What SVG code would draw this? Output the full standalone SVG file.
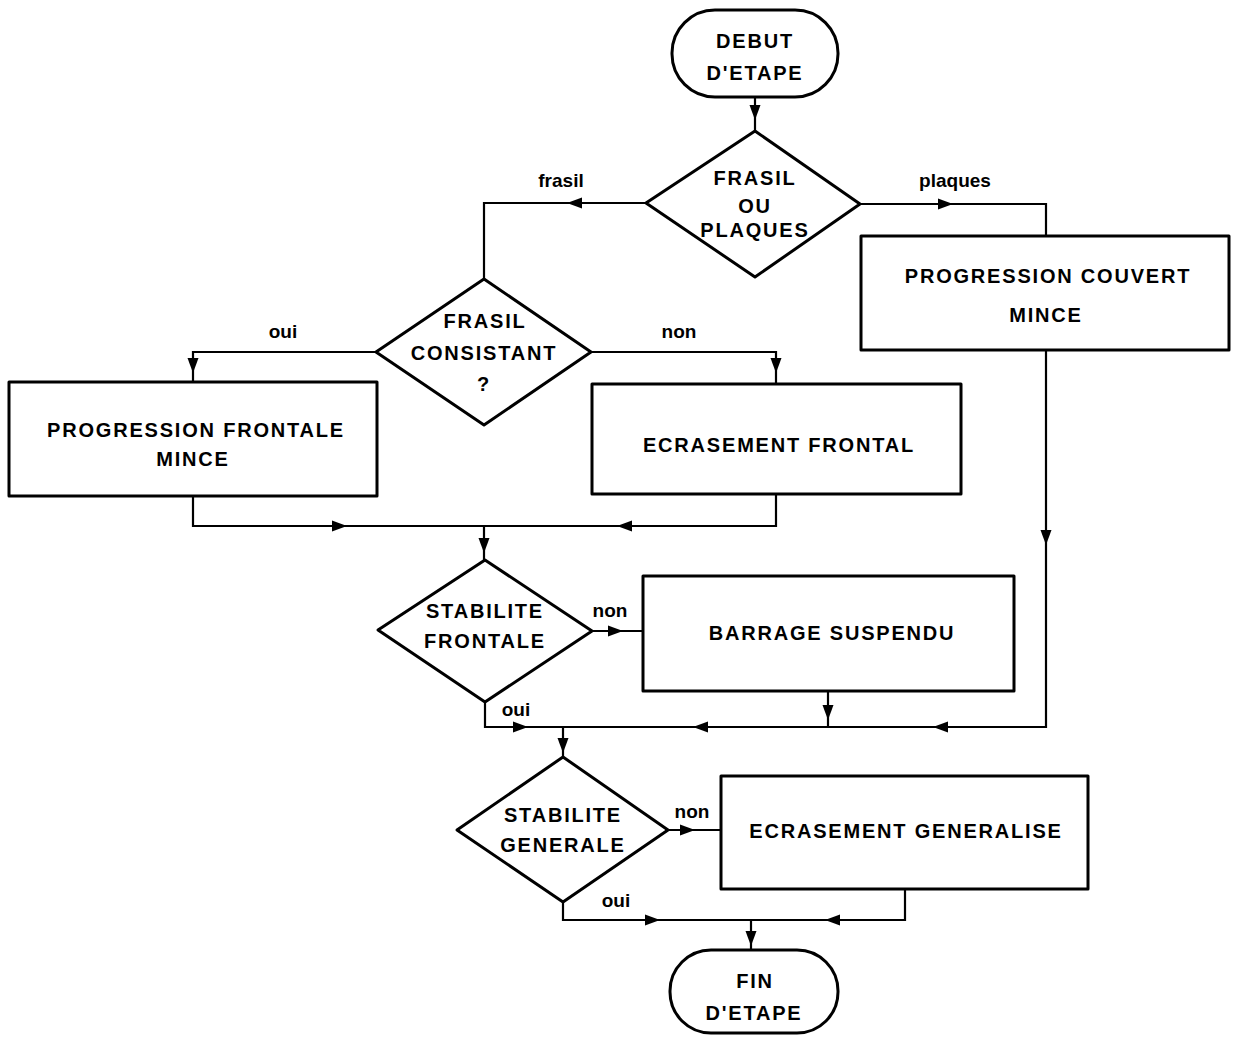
<svg xmlns="http://www.w3.org/2000/svg" width="1238" height="1037" viewBox="0 0 1238 1037">
<style>
.n{fill:#fff;stroke:#000;stroke-width:3;stroke-linejoin:round}
.t{font-family:"Liberation Sans",Arial,sans-serif;font-weight:bold;font-size:20px;letter-spacing:1.8px;fill:#000;text-anchor:middle}
.l{font-family:"Liberation Sans",Arial,sans-serif;font-weight:bold;font-size:19px;fill:#000;text-anchor:middle}
.c{fill:none;stroke:#000;stroke-width:2.2;stroke-linejoin:miter}
</style>
<defs>
<path id="ah" d="M0,0 L-15,-5.5 L-15,5.5 Z" fill="#000"/>
</defs>
<rect width="1238" height="1037" fill="#fff"/>

<g id="connectors">
<path class="c" d="M755,98 V131"/>
<use href="#ah" transform="translate(755,120) rotate(90)"/>
<path class="c" d="M646,203 H484 V279"/>
<use href="#ah" transform="translate(567,203) rotate(180)"/>
<path class="c" d="M860,204 H1046 V236"/>
<use href="#ah" transform="translate(953,204)"/>
<path class="c" d="M376,352 H193 V382"/>
<use href="#ah" transform="translate(193,373) rotate(90)"/>
<path class="c" d="M591,352 H776 V383"/>
<use href="#ah" transform="translate(776,373) rotate(90)"/>
<path class="c" d="M193,496 V526 H776 V495"/>
<use href="#ah" transform="translate(347,526)"/>
<use href="#ah" transform="translate(617,526) rotate(180)"/>
<path class="c" d="M484,526 V560"/>
<use href="#ah" transform="translate(484,553) rotate(90)"/>
<path class="c" d="M592,631 H643"/>
<use href="#ah" transform="translate(623,631)"/>
<path class="c" d="M485,702 V727 H1046 V350"/>
<use href="#ah" transform="translate(528,727)"/>
<use href="#ah" transform="translate(693,727) rotate(180)"/>
<use href="#ah" transform="translate(933,727) rotate(180)"/>
<use href="#ah" transform="translate(1046,545) rotate(90)"/>
<path class="c" d="M828,691 V727"/>
<use href="#ah" transform="translate(828,720) rotate(90)"/>
<path class="c" d="M563,727 V757"/>
<use href="#ah" transform="translate(563,753) rotate(90)"/>
<path class="c" d="M668,830 H720"/>
<use href="#ah" transform="translate(695,830)"/>
<path class="c" d="M563,902 V920 H905 V889"/>
<use href="#ah" transform="translate(660,920)"/>
<use href="#ah" transform="translate(825,920) rotate(180)"/>
<path class="c" d="M751,920 V950"/>
<use href="#ah" transform="translate(751,946) rotate(90)"/>
<text class="l" x="561" y="187">frasil</text>
<text class="l" x="955" y="187">plaques</text>
<text class="l" x="283" y="338">oui</text>
<text class="l" x="679" y="338">non</text>
<text class="l" x="610" y="617">non</text>
<text class="l" x="516" y="716">oui</text>
<text class="l" x="692" y="818">non</text>
<text class="l" x="616" y="907">oui</text>
</g>

<g id="debut">
<rect class="n" x="672" y="10" width="166" height="87" rx="43" ry="43"/>
<text class="t" x="755" y="48">DEBUT</text>
<text class="t" x="755" y="80">D'ETAPE</text>
</g>

<g id="frasil-ou-plaques">
<polygon class="n" points="755,131 860,204 755,277 646,203"/>
<text class="t" x="755" y="185">FRASIL</text>
<text class="t" x="755" y="213">OU</text>
<text class="t" x="755" y="237">PLAQUES</text>
</g>

<g id="progression-couvert">
<rect class="n" x="861" y="236" width="368" height="114"/>
<text class="t" x="1048" y="283">PROGRESSION COUVERT</text>
<text class="t" x="1046" y="322">MINCE</text>
</g>

<g id="frasil-consistant">
<polygon class="n" points="484,279 591,352 484,425 376,352"/>
<text class="t" x="485" y="328">FRASIL</text>
<text class="t" x="484" y="360">CONSISTANT</text>
<text class="t" x="484" y="391">?</text>
</g>

<g id="progression-frontale">
<rect class="n" x="9" y="382" width="368" height="114"/>
<text class="t" x="196" y="437">PROGRESSION FRONTALE</text>
<text class="t" x="193" y="466">MINCE</text>
</g>

<g id="ecrasement-frontal">
<rect class="n" x="592" y="384" width="369" height="110"/>
<text class="t" x="779" y="452">ECRASEMENT FRONTAL</text>
</g>

<g id="stabilite-frontale">
<polygon class="n" points="485,560 592,631 485,702 378,630"/>
<text class="t" x="485" y="618">STABILITE</text>
<text class="t" x="485" y="648">FRONTALE</text>
</g>

<g id="barrage-suspendu">
<rect class="n" x="643" y="576" width="371" height="115"/>
<text class="t" x="832" y="640">BARRAGE SUSPENDU</text>
</g>

<g id="stabilite-generale">
<polygon class="n" points="563,757 668,830 563,902 457,830"/>
<text class="t" x="563" y="822">STABILITE</text>
<text class="t" x="563" y="852">GENERALE</text>
</g>

<g id="ecrasement-generalise">
<rect class="n" x="721" y="776" width="367" height="113"/>
<text class="t" x="906" y="838">ECRASEMENT GENERALISE</text>
</g>

<g id="fin">
<rect class="n" x="670" y="950" width="168" height="83" rx="41" ry="41"/>
<text class="t" x="755" y="988">FIN</text>
<text class="t" x="754" y="1020">D'ETAPE</text>
</g>
</svg>
